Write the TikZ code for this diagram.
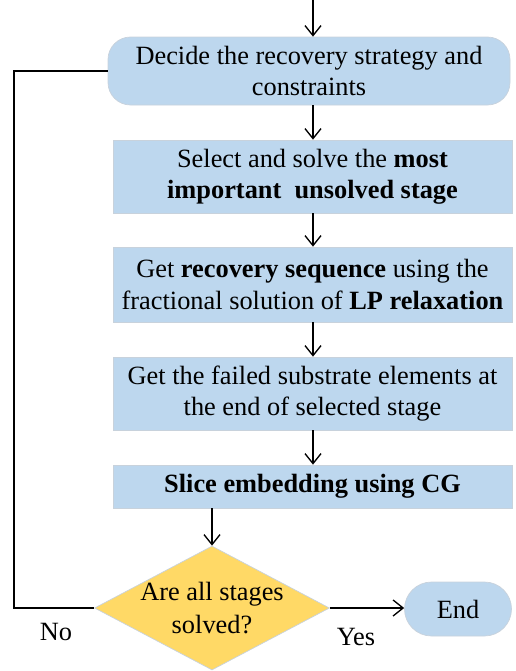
\documentclass[tikz,border=0pt]{standalone}
\usepackage{fontspec}
\setmainfont{Liberation Serif}
\usetikzlibrary{shapes.geometric,arrows.meta,positioning}
\definecolor{boxblue}{HTML}{BDD7EE}
\definecolor{boxline}{HTML}{C8D2DC}
\definecolor{askyellow}{HTML}{FFD966}
\begin{document}
\begin{tikzpicture}[font=\fontsize{15}{17.8}\selectfont,
    arrow/.style = {line width=0.75pt,-{Straight Barb[length=2mm,width=3.2mm]}},
    line/.style = {line width=0.75pt},
    stepbox/.style = {draw=boxline,fill=boxblue,minimum width=7.98cm,align=center,inner sep=0pt},
    roundbox/.style = {stepbox,rounded corners=0.45cm},
    decision/.style = {diamond,draw=boxline,fill=askyellow,minimum width=4.7cm,minimum height=2.48cm,inner sep=0pt}]
    \useasboundingbox (0,0) rectangle (10.3,-13.42);
    \coordinate (top) at (6.26,0);
    \node[roundbox,minimum width=8.04cm,minimum height=1.36cm] (decide) at (6.18,-1.42)
        {Decide the recovery strategy and\\constraints};
    \node[stepbox,minimum height=1.46cm] (select) at (6.25,-3.53)
        {Select and solve the \textbf{most}\\\textbf{important\ \ unsolved stage}};
    \node[stepbox,minimum height=1.5cm] (sequence) at (6.25,-5.69)
        {Get \textbf{recovery sequence} using the\\fractional solution of \textbf{LP relaxation}};
    \node[stepbox,minimum height=1.46cm] (failed) at (6.25,-7.87)
        {Get the failed substrate elements at\\the end of selected stage};
    \node[stepbox,minimum height=0.86cm] (embed) at (6.25,-9.73)
        {\textbf{Slice embedding using CG}};
    \node[decision] (solved) at (4.24,-12.16) {};
    \node[align=center] at (solved) {Are all stages\\[1pt]solved?};
    \node[roundbox,minimum width=2.14cm,minimum height=1.08cm,rounded corners=0.54cm] (finish) at (9.16,-12.18) {End};
    \node (no) at (1.12,-12.64) {No};
    \node (yes) at (7.12,-12.74) {Yes};
    \coordinate (loop) at (0.28,0);

    \draw[arrow] (top) -- (decide.north -| top);
    \draw[arrow] (decide.south -| top) -- (select.north -| top);
    \draw[arrow] (select.south -| top) -- (sequence.north -| top);
    \draw[arrow] (sequence.south -| top) -- (failed.north -| top);
    \draw[arrow] (failed.south -| top) -- (embed.north -| top);
    \draw[arrow] (embed.south -| solved) -- (solved.north);
    \draw[arrow] (solved.east) -- (finish.west |- solved.east);
    \draw[line] (solved.west) -- (solved.west -| loop) |- (decide.west);
\end{tikzpicture}
\end{document}
